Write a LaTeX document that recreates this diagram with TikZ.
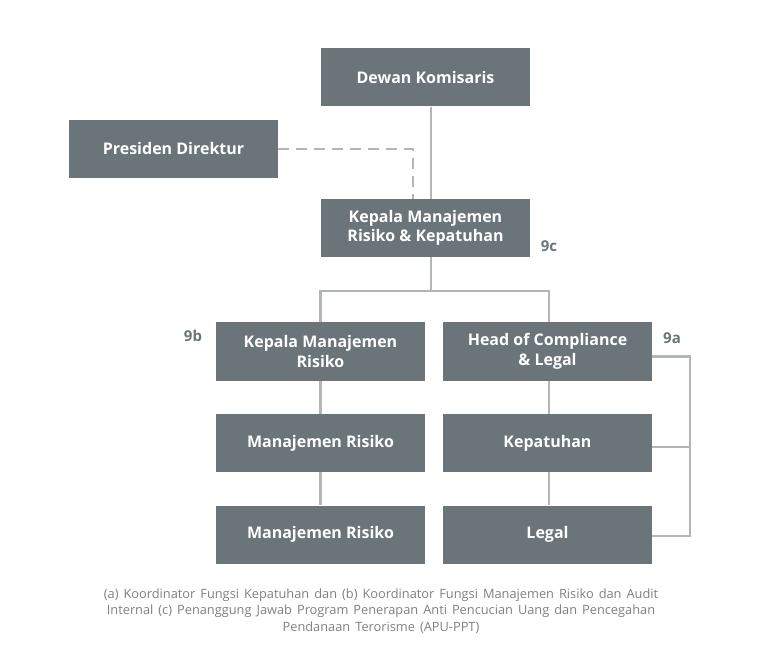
\documentclass[tikz,border=0pt]{standalone}
\usepackage{fontspec}
\setmainfont{Open Sans}
\usetikzlibrary{positioning,calc}
\definecolor{boxgray}{HTML}{6B7479}
\definecolor{linegray}{HTML}{B1B6B9}
\definecolor{notegray}{HTML}{7D8185}
\newcommand\notefont{\fontsize{12.8}{16.6}\selectfont\spaceskip 5pt plus 1pt\relax}

\begin{document}
\begin{tikzpicture}[x=1pt,y=-1pt,
    unit/.style={rectangle,fill=boxgray,text=white,minimum width=209pt,minimum height=58pt,inner sep=0pt,align=center,font=\fontsize{16}{19.5}\selectfont\bfseries},
    link/.style={linegray,line width=2.6pt},
    tag/.style={text=boxgray,font=\fontsize{15}{18}\selectfont\bfseries},
    note/.style={text=notegray,align=center,font=\notefont}]
    \useasboundingbox[fill=white] (0,0) rectangle (766,668);

    % Top level
    \node[unit] (dewan) at (425.5,77.5) {Dewan Komisaris};
    \node[unit] (presdir) at (173.5,149) {Presiden Direktur};
    \node[unit] (kmrk) at (425.5,228) {Kepala Manajemen\\Risiko \& Kepatuhan};
    \node[tag] (n9c) at (549,246) {9c};

    % Risk side
    \node[unit] (kmr) at (320.5,351.5) {Kepala Manajemen\\Risiko};
    \node[unit] (mr1) at (320.5,443) {Manajemen Risiko};
    \node[unit] (mr2) at (320.5,534.5) {Manajemen Risiko};
    \node[tag] (n9b) at (193,336) {9b};

    % Compliance side
    \node[unit] (hcl) at (547.5,351.5) {Head of Compliance\\\& Legal};
    \node[unit] (kep) at (547.5,443) {Kepatuhan};
    \node[unit] (legal) at (547.5,534.5) {Legal};
    \node[tag] (n9a) at (672,338) {9a};

    % Links
    \coordinate (trunk) at (431,0);
    \coordinate (rail) at (690,0);
    \draw[link] (dewan.south -| trunk) -- (kmrk.north -| trunk);
    \draw[link,dash pattern=on 11pt off 7pt] (presdir.east) -| ($(kmrk.north)+(-12.5,0)$);
    \draw[link] (kmrk.south -| trunk) -- ++(0,34) coordinate (split);
    \draw[link] (kmr.north) |- (split) -| ($(hcl.north)+(1.5,0)$);
    \draw[link] (kmr) -- (mr1);
    \draw[link] (mr1) -- (mr2);
    \draw[link] ($(hcl.south)+(1.5,0)$) -- ($(kep.north)+(1.5,0)$);
    \draw[link] ($(kep.south)+(1.5,0)$) -- ($(legal.north)+(1.5,0)$);
    \draw[link] ($(hcl.east)+(0,5)$) -| ($(legal.east -| rail)+(0,1.5)$) -- ($(legal.east)+(0,1.5)$);
    \draw[link] ($(kep.east)+(0,4)$) -- ($(kep.east -| rail)+(0,4)$);

    % Footnote
    \node[note] (remark) at (381,611) {(a) Koordinator Fungsi Kepatuhan dan (b) Koordinator Fungsi Manajemen Risiko dan Audit\\Internal (c) Penanggung Jawab Program Penerapan Anti Pencucian Uang dan Pencegahan\\Pendanaan Terorisme (APU-PPT)};
\end{tikzpicture}
\end{document}
